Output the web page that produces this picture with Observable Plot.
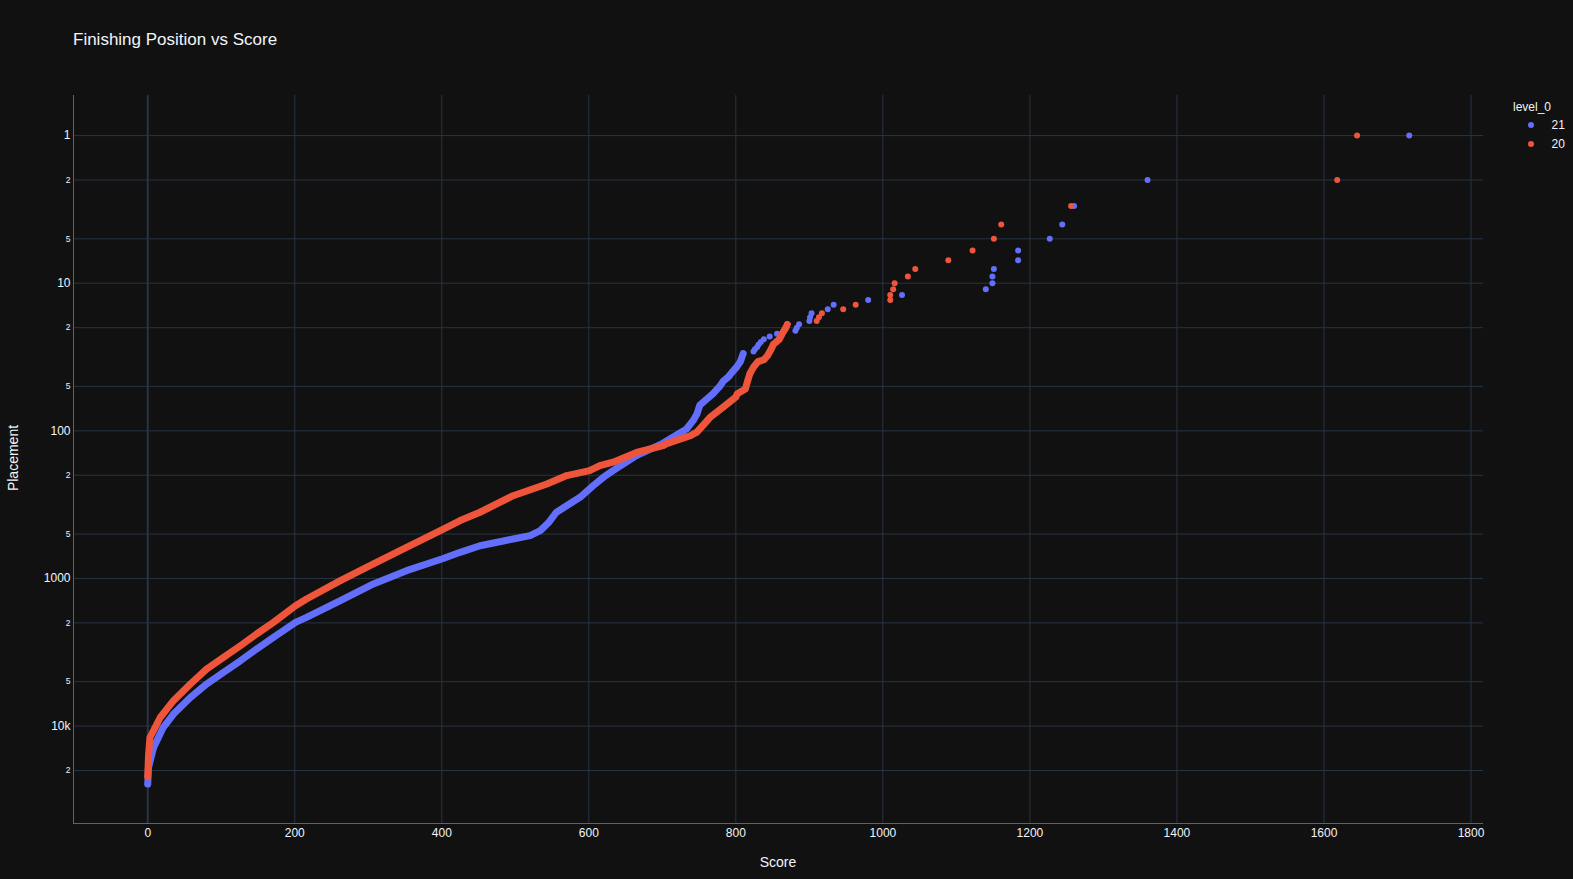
<!DOCTYPE html>
<html><head><meta charset="utf-8">
<script src="https://cdn.jsdelivr.net/npm/d3@7"></script>
<script src="https://cdn.jsdelivr.net/npm/@observablehq/plot@0.6"></script>
<style>
html,body{margin:0;padding:0;background:#111111;}
#chart{position:relative;width:1573px;height:879px;}
</style></head><body><div id="chart"></div>
<script>
// ---- data ----
const seriesNames = ["21", "20"];
const seriesColors = ["#636efa", "#EF553B"];

// level_0 = 21 (placement, score)
const place21 = [1,2,3,4,5,6,7,8,9,10,11,12,13,14,15,16,17,18,19,20,21,22,23,24,25,26,27,28,29,
  30,34,37,40,43,46,50,56,67,77,85,97,100,122,143,151,186,206,235,282,356,420,474,513,540,600,665,738,885,1090,1414,1836,1984,2508,3006,3610,4330,5190,6400,8290,10230,13960,19100,24700];
const score21 = [1716,1360,1260,1244,1227,1184,1184,1151,1149,1149,1140,1026,980,933,925,903,901,900,886,883,881,856,846,838,834,831,829,826,824,
  810,806,801,795,790,783,778,769,751,747,742,733,729,700,670,661,633,620,606,588,556,545,534,520,497,452,425,400,352,307,262,216,201,171,148,126,103,80,58,35,21,8,1,0];

// level_0 = 20 (placement, score)
const place20 = [1,2,3,4,5,6,7,8,9,10,11,12,13,14,15,16,17,18,
  19,20,22,24,26,28,31,33,34,37,41,46,52,56,59,69,81,97,102,108,122,126,140,143,163,172,186,201,229,275,356,405,474,615,797,1035,1377,1530,1984,2378,2856,3430,4110,5190,6730,8750,11950,16000,22000];
const score20 = [1645,1618,1256,1161,1151,1122,1089,1044,1034,1016,1014,1010,1010,963,946,917,913,910,
  870,868,863,859,851,848,843,838,830,824,819,816,813,802,800,783,765,751,747,738,706,701,665,661,633,615,601,570,543,497,452,425,398,352,307,262,216,201,171,148,126,103,80,58,35,17,3,1,0];

// dense part (drawn as a continuous band) starts at these placements
const denseFrom = {"21": 30, "20": 19};

const xTicks = [0,200,400,600,800,1000,1200,1400,1600,1800];
const yMajor = [1,10,100,1000,10000];
const yMajorLabels = ["1","10","100","1000","10k"];
const yMinor = [2,5,20,50,200,500,2000,5000,20000];
const yMinorLabels = ["2","5","2","5","2","5","2","5","2"];
const xDomain = [-101, 1817];
const yDomain = [0.535, 45700];

// ---- build tables ----
function rows(level, places, scores) {
  return places.map((p, i) => ({level, place: p, score: scores[i]}));
}
const rows21 = rows("21", place21, score21);
const rows20 = rows("20", place20, score20);
const dense21 = rows21.filter(d => d.place >= denseFrom["21"]);
const dense20 = rows20.filter(d => d.place >= denseFrom["20"]);
const minorTable = yMinor.map((v, i) => ({v, label: yMinorLabels[i]}));

const grid = "#283442";
const axisLine = "#506784";
const textColor = "#f2f5fa";
const font = "'Liberation Sans', Arial, sans-serif";

const chart = Plot.plot({
  width: 1573, height: 879,
  marginLeft: 73, marginRight: 90, marginTop: 95, marginBottom: 56,
  style: {background: "#111111", color: textColor, fontFamily: font, fontSize: "12px"},
  x: {domain: xDomain},
  y: {type: "log", domain: yDomain, reverse: true},
  color: {domain: seriesNames, range: seriesColors},
  marks: [
    Plot.gridX(xTicks.filter(d => d !== 0), {stroke: grid, strokeOpacity: 1, strokeWidth: 1}),
    Plot.gridY(yMajor.concat(yMinor), {stroke: grid, strokeOpacity: 1, strokeWidth: 1}),
    Plot.ruleX([0], {stroke: grid, strokeWidth: 2}),
    Plot.ruleX([xDomain[0]], {stroke: axisLine, strokeWidth: 1}),
    Plot.ruleY([yDomain[1]], {stroke: axisLine, strokeWidth: 1}),
    Plot.axisX(xTicks, {tickSize: 0, tickPadding: 5, label: null, fontSize: 12, fill: textColor,
      tickFormat: d => String(d)}),
    Plot.axisY(yMajor, {tickSize: 0, tickPadding: 3, label: null, fontSize: 12, fill: textColor,
      tickFormat: d => yMajorLabels[yMajor.indexOf(d)]}),
    Plot.text(minorTable, {x: () => xDomain[0], y: "v", text: "label", textAnchor: "end", dx: -3,
      fontSize: 8.5, fill: textColor}),
    Plot.line(dense21, {x: "score", y: "place", stroke: "level", strokeWidth: 7, strokeLinecap: "round", strokeLinejoin: "round"}),
    Plot.dot(rows21, {x: "score", y: "place", fill: "level", r: 3}),
    Plot.line(dense20, {x: "score", y: "place", stroke: "level", strokeWidth: 7, strokeLinecap: "round", strokeLinejoin: "round"}),
    Plot.dot(rows20, {x: "score", y: "place", fill: "level", r: 3})
  ]
});

const svg = d3.select(chart);
function addText(x, y, txt, size, anchor, transform) {
  const t = svg.append("text").attr("dy", "0.35em")
    .attr("fill", textColor).attr("font-size", size).attr("font-family", font)
    .attr("text-anchor", anchor).text(txt);
  if (transform) t.attr("transform", transform); else t.attr("x", x).attr("y", y);
  return t;
}
addText(73, 39, "Finishing Position vs Score", 17, "start");
addText(778, 862, "Score", 14, "middle");
addText(0, 0, "Placement", 14, "middle", "translate(13.3,458) rotate(-90)");
// legend
addText(1513, 106.5, "level_0", 12, "start");
seriesNames.forEach((name, i) => {
  const cy = 125 + i * 19;
  svg.append("circle").attr("cx", 1531).attr("cy", cy).attr("r", 3).attr("fill", seriesColors[i]);
  addText(1551.5, cy, name, 12, "start");
});

document.getElementById("chart").appendChild(chart);
</script>
</body></html>
